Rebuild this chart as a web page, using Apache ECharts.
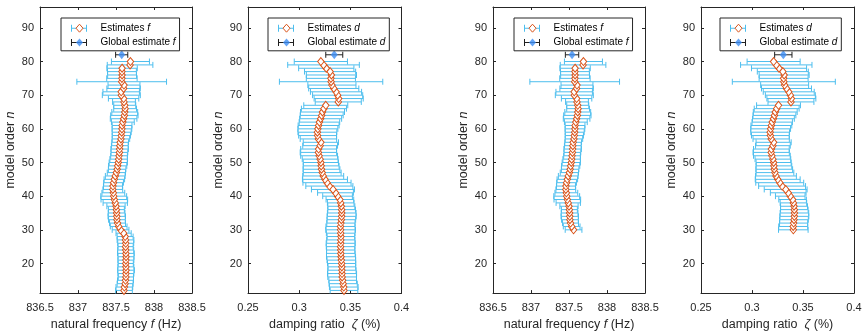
<!DOCTYPE html>
<html><head><meta charset="utf-8">
<script src="https://cdn.jsdelivr.net/npm/echarts@6/dist/echarts.min.js"></script>
<style>html,body{margin:0;padding:0;background:#fff}#c{width:865px;height:336px}</style>
</head><body><div id="c"></div>
<script>
// ---------------- data ----------------
const modelOrders = [12,13,14,15,16,17,18,19,20,21,22,23,24,25,26,27,28,29,30,31,32,33,34,35,36,37,38,39,40,41,42,43,44,45,46,47,48,49,50,51,52,53,54,55,56,57,58,59,60,61,62,63,64,65,66,67,68,69,70,71,72,73,74,75,76,77,78,79,80];
const freqEst = [837.605,837.61,837.62,837.625,837.63,837.63,837.632,837.63,837.628,837.63,837.632,837.63,837.628,837.626,837.628,837.625,837.62,837.60,837.56,837.535,837.52,837.512,837.51,837.508,837.505,837.50,837.49,837.478,837.47,837.465,837.458,837.46,837.468,837.478,837.49,837.505,837.515,837.522,837.53,837.535,837.54,837.545,837.548,837.55,837.555,837.565,837.57,837.575,837.578,837.58,837.59,837.60,837.61,837.615,837.62,837.615,837.605,837.60,837.57,837.568,837.60,837.605,837.575,837.578,837.58,837.578,837.58,837.685,837.69];
const freqErr = [0.11,0.11,0.105,0.105,0.1,0.105,0.11,0.105,0.1,0.105,0.105,0.11,0.105,0.1,0.105,0.11,0.105,0.1,0.11,0.11,0.105,0.11,0.115,0.11,0.105,0.12,0.16,0.175,0.17,0.15,0.13,0.125,0.13,0.135,0.13,0.12,0.115,0.12,0.12,0.115,0.11,0.11,0.115,0.11,0.11,0.115,0.12,0.125,0.13,0.13,0.15,0.175,0.18,0.17,0.15,0.145,0.15,0.2,0.25,0.24,0.22,0.21,0.59,0.2,0.19,0.19,0.2,0.3,0.25];
const dampEst = [0.3438,0.3436,0.343,0.3425,0.342,0.3419,0.3418,0.3417,0.3415,0.3412,0.3409,0.3407,0.3406,0.3405,0.3406,0.3407,0.3408,0.3406,0.3405,0.3404,0.3408,0.3412,0.3415,0.3416,0.3415,0.3412,0.3406,0.3398,0.3375,0.3355,0.333,0.3295,0.3272,0.3252,0.3235,0.3225,0.3218,0.3215,0.3212,0.3205,0.3195,0.3188,0.319,0.3205,0.3212,0.3188,0.318,0.3178,0.3183,0.319,0.3198,0.321,0.322,0.3228,0.3242,0.326,0.3382,0.3386,0.3376,0.336,0.3338,0.332,0.3312,0.331,0.3315,0.3302,0.3265,0.3238,0.3212];
const dampErr = [0.0135,0.014,0.0138,0.0135,0.014,0.0142,0.0138,0.0135,0.0138,0.014,0.0142,0.014,0.0138,0.014,0.0142,0.0138,0.0135,0.014,0.0145,0.0142,0.0138,0.014,0.0142,0.014,0.0135,0.0132,0.013,0.0135,0.0145,0.0175,0.021,0.023,0.0235,0.022,0.02,0.0185,0.018,0.0175,0.0172,0.0175,0.018,0.0178,0.0175,0.017,0.0172,0.0178,0.0185,0.019,0.0195,0.02,0.0198,0.0205,0.021,0.0215,0.022,0.0215,0.0225,0.024,0.0245,0.025,0.0245,0.0235,0.0505,0.024,0.0245,0.025,0.027,0.035,0.026];
const globalOrder = 82;
const globalFreq = [837.575, 837.54];     // panel 1, panel 3
const globalFreqErr = [0.08, 0.088];
const globalDamp = [0.3343, 0.3307];      // panel 2, panel 4
const globalDampErr = [0.0083, 0.0085];
const firstOrder = [12, 30];              // left pair, right pair
const freqTicks = [836.5, 837, 837.5, 838, 838.5];
const dampTicks = [0.25, 0.3, 0.35, 0.4];
const orderTicks = [20, 30, 40, 50, 60, 70, 80, 90];
const legendLabels = ['Estimates', 'Global estimate'];

// ---------------- style ----------------
const C_AX = '#262626', C_BAR = '#4DBEEE', C_MK = '#D95319', C_GL = '#3D8EF5', C_GBAR = '#1f1f1f';
const FONT = 'Liberation Sans, Arial, Helvetica, sans-serif';
const grids = [
  {left: 40, top: 7, width: 152, height: 290},
  {left: 248, top: 7, width: 153.5, height: 290},
  {left: 493, top: 7, width: 152, height: 290},
  {left: 701, top: 7, width: 153, height: 290}
];
const legendLeft = [61, 268, 514, 720];
const Y_MIN = 11.2, Y_MAX = 96.2;

function errRender(capH) {
  return function (params, api) {
    const y = api.value(2);
    const p1 = api.coord([api.value(0), y]);
    const p2 = api.coord([api.value(1), y]);
    const st = {stroke: api.visual('color'), lineWidth: 1, fill: null};
    return {type: 'group', children: [
      {type: 'line', shape: {x1: p1[0], y1: p1[1], x2: p2[0], y2: p2[1]}, style: st},
      {type: 'line', shape: {x1: p1[0], y1: p1[1] - capH, x2: p1[0], y2: p1[1] + capH}, style: st},
      {type: 'line', shape: {x1: p2[0], y1: p2[1] - capH, x2: p2[0], y2: p2[1] + capH}, style: st}
    ]};
  };
}

const option = {animation: false, backgroundColor: '#fff', grid: grids, xAxis: [], yAxis: [], series: [], legend: []};

const ERR_ICON = 'path://M0,3h16v1H0z M0,0h1v7H0z M15,0h1v7h-1z';

for (let p = 0; p < 4; p++) {
  const isFreq = (p % 2 === 0);
  const pair = p < 2 ? 0 : 1;
  const est = isFreq ? freqEst : dampEst;
  const err = isFreq ? freqErr : dampErr;
  const gVal = isFreq ? globalFreq[pair] : globalDamp[pair];
  const gErr = isFreq ? globalFreqErr[pair] : globalDampErr[pair];
  const sym = isFreq ? 'f' : 'd';
  const ticks = isFreq ? freqTicks : dampTicks;
  const xmin = ticks[0], xmax = ticks[ticks.length - 1];
  const xint = ticks[1] - ticks[0];
  const common = {
    gridIndex: p, type: 'value', min: xmin, max: xmax, interval: xint,
    axisLine: {show: true, onZero: false, lineStyle: {color: C_AX, width: 1}},
    axisTick: {show: true, inside: true, length: 3, lineStyle: {color: C_AX}},
    splitLine: {show: false}
  };
  option.xAxis.push(Object.assign({}, common, {
    position: 'bottom',
    axisLabel: {fontSize: 11, fontFamily: FONT, color: C_AX, margin: 9,
      formatter: v => String(+v.toFixed(2))},
    name: isFreq ? 'natural frequency {i|f} (Hz)' : 'damping ratio  {i|ζ} (%)',
    nameLocation: 'middle', nameGap: 24,
    nameTextStyle: {fontSize: 12.5, fontFamily: FONT, color: C_AX,
      rich: {i: {fontSize: 12.5, fontFamily: FONT, fontStyle: 'italic', color: C_AX}}}
  }));
  option.xAxis.push(Object.assign({}, common, {position: 'top', axisLabel: {show: false}}));
  const ycommon = {
    gridIndex: p, type: 'value', min: Y_MIN, max: Y_MAX,
    axisLine: {show: true, onZero: false, lineStyle: {color: C_AX, width: 1}},
    axisTick: {show: true, inside: true, length: 3, lineStyle: {color: C_AX}, customValues: orderTicks},
    splitLine: {show: false}
  };
  option.yAxis.push(Object.assign({}, ycommon, {
    position: 'left',
    axisLabel: {fontSize: 11, fontFamily: FONT, color: C_AX, margin: 6, customValues: orderTicks},
    name: 'model order {i|n}', nameLocation: 'middle', nameGap: 23,
    nameTextStyle: {fontSize: 12.5, fontFamily: FONT, color: C_AX,
      rich: {i: {fontSize: 12.5, fontFamily: FONT, fontStyle: 'italic', color: C_AX}}}
  }));
  option.yAxis.push(Object.assign({}, ycommon, {position: 'right', axisLabel: {show: false, customValues: orderTicks}}));

  const xi = p * 2, yi = p * 2;
  const barData = [], ptData = [];
  for (let k = 0; k < modelOrders.length; k++) {
    if (modelOrders[k] < firstOrder[pair]) continue;
    barData.push([est[k] - err[k], est[k] + err[k], modelOrders[k]]);
    ptData.push([est[k], modelOrders[k]]);
  }
  const nEstBar = legendLabels[0] + '|' + sym + '|bar|' + p;
  const nEstPt = legendLabels[0] + '|' + sym + '|pt|' + p;
  const nGBar = legendLabels[1] + '|' + sym + '|bar|' + p;
  const nGPt = legendLabels[1] + '|' + sym + '|pt|' + p;
  option.series.push({
    name: nEstBar, type: 'custom', xAxisIndex: xi, yAxisIndex: yi, z: 2,
    itemStyle: {color: C_BAR}, renderItem: errRender(3),
    encode: {x: [0, 1], y: 2}, data: barData, clip: false
  });
  option.series.push({
    name: nEstPt, type: 'scatter', xAxisIndex: xi, yAxisIndex: yi, z: 3,
    symbol: 'diamond', symbolSize: [6.5, 8],
    itemStyle: {color: '#fff', borderColor: C_MK, borderWidth: 1, opacity: 1},
    data: ptData
  });
  option.series.push({
    name: nGBar, type: 'custom', xAxisIndex: xi, yAxisIndex: yi, z: 4,
    itemStyle: {color: C_GBAR}, renderItem: errRender(3),
    encode: {x: [0, 1], y: 2}, data: [[gVal - gErr, gVal + gErr, globalOrder]]
  });
  option.series.push({
    name: nGPt, type: 'scatter', xAxisIndex: xi, yAxisIndex: yi, z: 5,
    symbol: 'diamond', symbolSize: [7, 9],
    itemStyle: {color: C_GL, borderColor: C_GL, borderWidth: 0},
    data: [[gVal, globalOrder]]
  });

  const fmt = name => { const s = name.split('|'); return s[0] + ' {i|' + s[1] + '}'; };
  const txt = (col) => ({fontSize: 10, fontFamily: FONT, color: col, lineHeight: 14.4, padding: [0, 0, 0, 8.5],
    rich: {i: {fontSize: 10, fontFamily: FONT, fontStyle: 'italic', color: col, lineHeight: 14.4}}});
  option.legend.push({
    orient: 'vertical', left: legendLeft[p], top: 18, padding: [3, 4, 1, 10],
    itemWidth: 16, itemHeight: 7, itemGap: 0, selectedMode: false, z: 6,
    backgroundColor: '#fff', borderColor: C_AX, borderWidth: 1,
    formatter: fmt, textStyle: txt('#000'),
    data: [
      {name: nEstBar, icon: ERR_ICON, itemStyle: {color: C_BAR, borderWidth: 0}},
      {name: nGBar, icon: ERR_ICON, itemStyle: {color: C_GBAR, borderWidth: 0}}
    ]
  });
  option.legend.push({
    orient: 'vertical', left: legendLeft[p] + 14.5, top: 18, padding: [3, 0, 1, 0],
    itemWidth: 7, itemHeight: 8, itemGap: 0, selectedMode: false, z: 7,
    formatter: fmt, textStyle: txt('rgba(0,0,0,0)'),
    data: [
      {name: nEstPt, icon: 'diamond', itemStyle: {color: '#fff', borderColor: C_MK, borderWidth: 1}},
      {name: nGPt, icon: 'diamond', itemStyle: {color: C_GL, borderWidth: 0}}
    ]
  });
}

const chart = echarts.init(document.getElementById('c'), null, {renderer: 'canvas'});
chart.setOption(option);
</script></body></html>
